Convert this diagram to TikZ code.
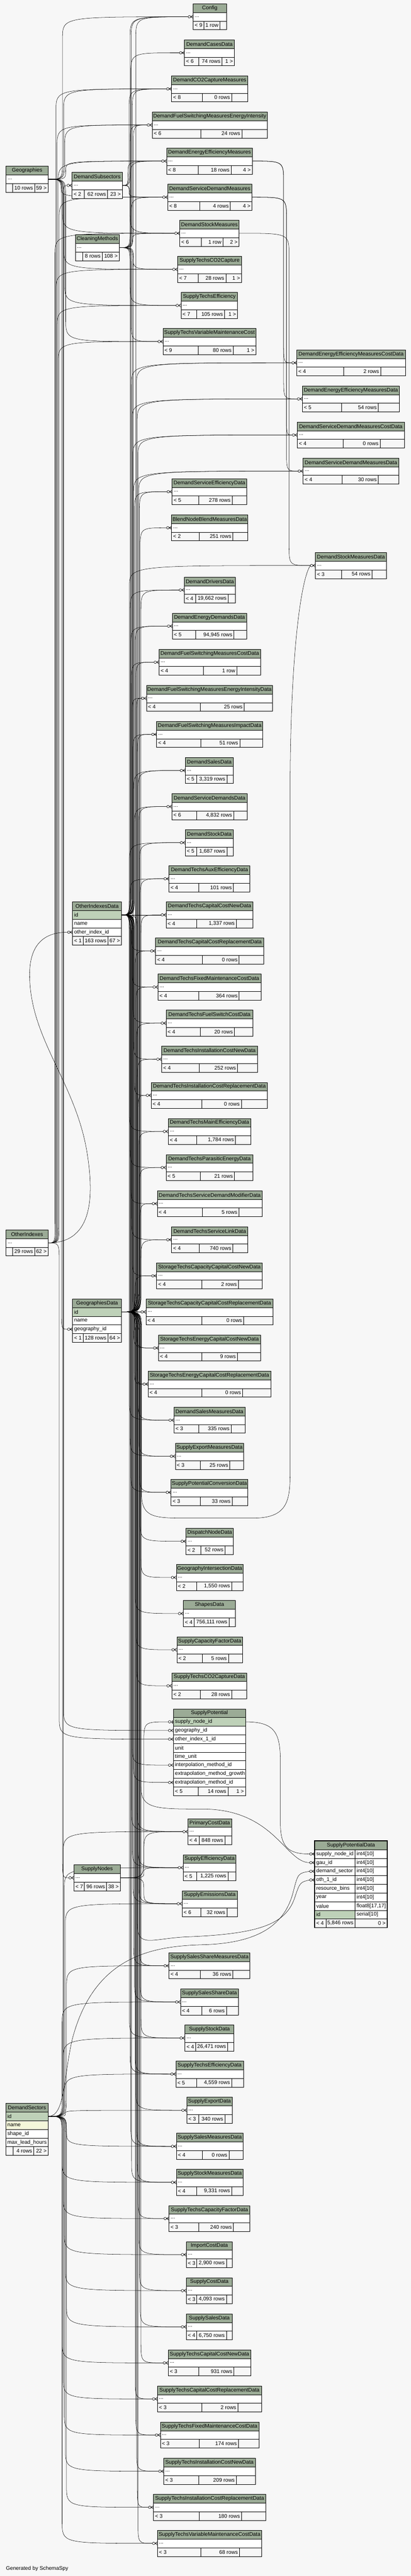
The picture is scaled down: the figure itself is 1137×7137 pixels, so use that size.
\documentclass[tikz,border=0pt]{standalone}
\usepackage{fontspec}
\setmainfont{Liberation Sans}
\usetikzlibrary{calc}
\usetikzlibrary{backgrounds}

\definecolor{pagebg}{HTML}{F7F7F7}
\definecolor{hdrgreen}{HTML}{9BAB96}
\definecolor{keygreen}{HTML}{BED1B8}
\definecolor{idxyellow}{HTML}{F4F7DA}

\tikzset{
    hdr/.style = {draw, fill = hdrgreen},
    cell/.style = {draw, fill = white},
    keycell/.style = {draw, fill = keygreen},
    idxcell/.style = {draw, fill = idxyellow},
    foot/.style = {draw, fill = pagebg},
    ttl/.style = {inner sep = 0pt},
    lbl/.style = {anchor = west, inner sep = 0pt, xshift = 4pt},
    rlbl/.style = {anchor = east, inner sep = 0pt, xshift = -4pt},
    fkline/.style = {line width = 0.75pt},
}

% header: xl, xr, ytop, title, name
\newcommand{\tabhead}[5]{%
    \draw[hdr] ({#1},{#3}) rectangle ({#2},{#3+24});
    \node[ttl] (#5) at ({(#1+#2)/2},{#3+12}) {#4};}
% row: xl, xr, ytop, style, text, name
\newcommand{\tabrow}[6]{%
    \draw[#4] ({#1},{#3}) rectangle ({#2},{#3+24});
    \node[lbl] (#6) at ({#1},{#3+12}) {#5};}
% footer: xl, xr, ytop, split1, split2, left, middle, right, name
\newcommand{\tabfoot}[9]{%
    \draw[foot] ({#1},{#3}) rectangle ({#2},{#3+24});
    \draw ({#4},{#3}) -- ({#4},{#3+24}) ({#5},{#3}) -- ({#5},{#3+24});
    \node[lbl] (#9-l) at ({#1},{#3+12}) {#6};
    \node[rlbl] (#9-m) at ({#5},{#3+12}) {#7};
    \node[rlbl] (#9-r) at ({#2},{#3+12}) {#8};}
% zero or many
\newcommand{\crowat}[1]{%
    \begin{scope}[shift = {#1}]
        \draw (-7,0) -- (0,-4.5) (-7,0) -- (0,0) (-7,0) -- (0,4.5);
        \draw[fill = white] (-10.5,0) circle [radius = 3.5];
    \end{scope}}
% zero or one
\newcommand{\barat}[1]{%
    \begin{scope}[shift = {#1}]
        \draw (-7,0) -- (0,0) (-3.5,-5) -- (-3.5,5);
        \draw[fill = white] (-10.5,0) circle [radius = 3.5];
    \end{scope}}
% parent, child, channel x
\newcommand{\fk}[3]{%
    \draw[fkline] let \p1 = (#1), \p2 = (#2),
        \n1 = {ifthenelse((\y2)<(\y1),-1,1)},
        \n2 = {min(abs((\y2)-(\y1))/2,60)}
    in (\p1) .. controls ({#3},\y1) .. ({#3},{(\y1)+(\n1)*(\n2)*1pt})
        -- ({#3},{(\y2)-(\n1)*(\n2)*1pt}) .. controls ({#3},\y2) .. (\p2);}

\begin{document}
\begin{tikzpicture}[x = 1pt, y = -1pt, line width = 0.9pt, font = \fontsize{14.7}{17}\selectfont]
    \useasboundingbox (0,0) rectangle (1137,7137);

    % tables with one "..." row
    \foreach \nm/\xl/\xr/\yt/\ttl/\spa/\spb/\lft/\mdl/\rgt/\mk in {
        cfg/534.7/626.7/10.5/Config/564/609/{< 9}/{1 row}/{}/1,
        dcd/510.7/649/110.3/DemandCasesData/549.3/614.7/{< 6}/{74 rows}/{1 >}/1,
        dccm/475/686/210.3/DemandCO2CaptureMeasures/559.8/641/{< 8}/{0 rows}/{}/1,
        dfsei/421.3/739.7/310.3/DemandFuelSwitchingMeasuresEnergyIntensity/555.5/669.3/{< 6}/{24 rows}/{}/1,
        deem/461.2/698.3/410.3/DemandEnergyEfficiencyMeasures/549/639.6/{< 8}/{18 rows}/{4 >}/1,
        dsdm/464.1/697.6/510.3/DemandServiceDemandMeasures/553.3/637.4/{< 8}/{4 rows}/{4 >}/1,
        dsm/497.5/662/610.3/DemandStockMeasures/557.6/617.1/{< 6}/{1 row}/{2 >}/1,
        stcc/491.7/668.6/710.3/SupplyTechsCO2Capture/549/625/{< 7}/{28 rows}/{1 >}/1,
        ste/501.1/657.7/810.3/SupplyTechsEfficiency/544.6/621.5/{< 7}/{105 rows}/{1 >}/1,
        stvmc/451/708.5/910.3/SupplyTechsVariableMaintenanceCost/549/645.4/{< 9}/{80 rows}/{1 >}/1,
        deemc/821.6/1121.8/969.2/DemandEnergyEfficiencyMeasuresCostData/950.7/1053.7/{< 4}/{2 rows}/{}/1,
        deemd/836.8/1105.9/1069.2/DemandEnergyEfficiencyMeasuresData/945.6/1047.1/{< 5}/{54 rows}/{}/1,
        dsdmc/823/1118.9/1169.2/DemandServiceDemandMeasuresCostData/949.2/1052.2/{< 4}/{0 rows}/{}/1,
        dsdmd/839/1103.7/1269.2/DemandServiceDemandMeasuresData/947/1047.1/{< 4}/{30 rows}/{}/1,
        dsed/476.4/683.1/1326.3/DemandServiceEfficiencyData/550.4/642.5/{< 5}/{278 rows}/{}/1,
        bnbm/475/686/1426.3/BlendNodeBlendMeasuresData/551.8/644.7/{< 2}/{251 rows}/{}/1,
        dsmd/873.1/1069.6/1530.8/DemandStockMeasuresData/945.6/1029.7/{< 3}/{54 rows}/{}/1,
        ddd/509.8/651.9/1598.7/DemandDriversData/541/631.6/{< 4}/{19,662 rows}/{}/1,
        dedd/477.2/682.4/1698.7/DemandEnergyDemandsData/541/647.6/{< 5}/{94,945 rows}/{}/1,
        dfsc/440.2/720.8/1798.7/DemandFuelSwitchingMeasuresCostData/563.5/655.5/{< 4}/{1 row}/{}/1,
        dfseid/405.4/754.2/1898.7/DemandFuelSwitchingMeasuresEnergyIntensityData/554.7/675.9/{< 4}/{25 rows}/{}/1,
        dfsid/433.6/727.3/1998.7/DemandFuelSwitchingMeasuresImpactData/555.5/663.5/{< 4}/{51 rows}/{}/1,
        dsd/512.7/646.1/2098.7/DemandSalesData/544.6/628/{< 5}/{3,319 rows}/{}/1,
        dsdd/475.7/684.6/2198.7/DemandServiceDemandsData/544.6/646.8/{< 6}/{4,832 rows}/{}/1,
        dstd/512.7/646.1/2298.7/DemandStockData/544.6/628/{< 5}/{1,687 rows}/{}/1,
        dtae/467.7/691.8/2398.7/DemandTechsAuxEfficiencyData/550.4/646.1/{< 4}/{101 rows}/{}/1,
        dtccn/459.7/700.5/2498.7/DemandTechsCapitalCostNewData/544.6/654.1/{< 4}/{1,337 rows}/{}/1,
        dtccr/430.7/730.2/2598.7/DemandTechsCapitalCostReplacementData/559.8/662/{< 4}/{0 rows}/{}/1,
        dtfm/437.3/722.3/2698.7/DemandTechsFixedMaintenanceCostData/550.4/662/{< 4}/{364 rows}/{}/1,
        dtfs/459.7/699.8/2798.7/DemandTechsFuelSwitchCostData/554/649/{< 4}/{20 rows}/{}/1,
        dticn/447.4/712.8/2898.7/DemandTechsInstallationCostNewData/551.8/657.7/{< 4}/{252 rows}/{}/1,
        dticr/418.4/740.4/2998.7/DemandTechsInstallationCostReplacementData/558.4/667.9/{< 4}/{0 rows}/{}/1,
        dtme/465.6/694/3098.7/DemandTechsMainEfficiencyData/544.6/651.9/{< 4}/{1,784 rows}/{}/1,
        dtpe/459.7/699.8/3198.7/DemandTechsParasiticEnergyData/554/649/{< 5}/{21 rows}/{}/1,
        dtsdm/435.1/725.9/3298.7/DemandTechsServiceDemandModifierData/559.8/661.3/{< 4}/{5 rows}/{}/1,
        dtsl/475/686/3398.7/DemandTechsServiceLinkData/551.8/644.7/{< 4}/{740 rows}/{}/1,
        stccn/433.6/725.9/3498.7/StorageTechsCapacityCapitalCostNewData/558.4/659.9/{< 4}/{2 rows}/{}/1,
        stccr/403.9/755.6/3598.7/StorageTechsCapacityCapitalCostReplacementData/558.4/674.4/{< 4}/{0 rows}/{}/1,
        stecn/438.7/720.8/3698.7/StorageTechsEnergyCapitalCostNewData/558.4/657/{< 4}/{9 rows}/{}/1,
        stecr/409.7/749.8/3798.7/StorageTechsEnergyCapitalCostReplacementData/558.4/671.5/{< 4}/{0 rows}/{}/1,
        dsmsd/481.5/678/3898.7/DemandSalesMeasuresData/550.4/639.6/{< 3}/{335 rows}/{}/1,
        semd/485.1/674.4/3998.7/SupplyExportMeasuresData/554.7/636/{< 3}/{25 rows}/{}/1,
        spcd/473.5/686/4098.7/SupplyPotentialConversionData/554.7/642.5/{< 3}/{33 rows}/{}/1,
        dnd/514.9/646.1/4234.2/DispatchNodeData/555.5/622.9/{< 2}/{52 rows}/{}/1,
        gid/488/673/4334.5/GeographyIntersectionData/544.6/641/{< 2}/{1,550 rows}/{}/1,
        shd/507.6/651.9/4434.4/ShapesData/536.6/633.8/{< 4}/{756,111 rows}/{}/1,
        scfd/489.5/671.5/4534.7/SupplyCapacityFactorData/559.8/632.3/{< 2}/{5 rows}/{}/1,
        stccd/475.7/683.1/4634.6/SupplyTechsCO2CaptureData/554.7/641/{< 2}/{28 rows}/{}/1,
        pcd/520/641/5038.6/PrimaryCostData/551.8/622.2/{< 4}/{848 rows}/{}/1,
        sefd/506.9/653.4/5138.4/SupplyEfficiencyData/544.6/630.9/{< 5}/{1,225 rows}/{}/1,
        semi/504/657/5238.3/SupplyEmissionsData/555.5/628/{< 6}/{32 rows}/{}/1,
        sssm/467.7/691.8/5410.3/SupplySalesShareMeasuresData/554.7/644.7/{< 4}/{36 rows}/{}/1,
        sss/499.6/659.9/5510.6/SupplySalesShareData/559.1/626.5/{< 4}/{6 rows}/{}/1,
        ssd/512/647.6/5610.5/SupplyStockData/541/630.2/{< 4}/{26,471 rows}/{}/1,
        sted/486.6/673.7/5710.3/SupplyTechsEfficiencyData/544.6/641/{< 5}/{4,559 rows}/{}/1,
        sexd/517/642.5/5810.6/SupplyExportData/550.4/622.2/{< 3}/{340 rows}/{}/1,
        ssmd/488/673/5910.5/SupplySalesMeasuresData/559.8/633.8/{< 4}/{0 rows}/{}/1,
        stmd/488/673/6010.3/SupplyStockMeasuresData/544.6/641/{< 4}/{9,331 rows}/{}/1,
        stcf/467.7/691.8/6110.6/SupplyTechsCapacityFactorData/550.4/646.1/{< 3}/{240 rows}/{}/1,
        icd/515.6/643.2/6210.5/ImportCostData/544.6/626.5/{< 3}/{2,900 rows}/{}/1,
        scd/515.6/643.2/6310.3/SupplyCostData/544.6/626.5/{< 3}/{4,093 rows}/{}/1,
        ssld/515.6/643.2/6410.6/SupplySalesData/544.6/626.5/{< 4}/{6,750 rows}/{}/1,
        stcn/465.6/694/6510.5/SupplyTechsCapitalCostNewData/550.4/647.6/{< 3}/{931 rows}/{}/1,
        stcr/435.8/723.7/6610.4/SupplyTechsCapitalCostReplacementData/558.4/658.4/{< 3}/{2 rows}/{}/1,
        stfm/443.8/716.5/6710.3/SupplyTechsFixedMaintenanceCostData/551.8/659.9/{< 3}/{174 rows}/{}/1,
        stin/453.2/706.3/6810.7/SupplyTechsInstallationCostNewData/550.4/654.1/{< 3}/{209 rows}/{}/1,
        stir/425/735.3/6910.6/SupplyTechsInstallationCostReplacementData/551.8/668.6/{< 3}/{180 rows}/{}/1,
        stvm/435.8/724.4/7010.5/SupplyTechsVariableMaintenanceCostData/555.5/662.8/{< 3}/{68 rows}/{}/1,
        geo/16.7/133.4/460.7/Geographies/34.8/95.7/{}/{10 rows}/{59 >}/0,
        dsub/199.4/338.6/477.7/DemandSubsectors/233.5/298/{< 2}/{62 rows}/{23 >}/1,
        cm/208.8/330/650/CleaningMethods/228.4/282.8/{}/{8 rows}/{108 >}/0,
        oi/16.7/133.4/3407.6/OtherIndexes/34.8/95.7/{}/{29 rows}/{62 >}/0,
        sn/204.5/332.9/5166.6/SupplyNodes/233.5/295.1/{< 7}/{96 rows}/{38 >}/1%
    }{
        \coordinate (\nm-in) at ({\xl-14},{\yt+36});
        \coordinate (\nm-out) at (\xr,{\yt+36});
        \tabhead{\xl}{\xr}{\yt}{\ttl}{\nm-t}
        \tabrow{\xl}{\xr}{\yt+24}{cell}{...}{\nm-b}
        \tabfoot{\xl}{\xr}{\yt+48}{\spa}{\spb}{\lft}{\mdl}{\rgt}{\nm-f}
        \ifnum\mk=1 \crowat{(\xl,\yt+36)}\fi
    }

    % OtherIndexesData
    \tabhead{200.9}{336.5}{2498.7}{OtherIndexesData}{oid-t}
    \foreach \txt/\sty [count = \rw] in {id/keycell, name/cell, other\_index\_id/cell}{
        \tabrow{200.9}{336.5}{2498.7+24*\rw}{\sty}{\txt}{oid-r\rw}
    }
    \tabfoot{200.9}{336.5}{2594.7}{229.9}{298.8}{< 1}{163 rows}{67 >}{oid-f}
    \coordinate (oid-out) at (336.5,2534.7);
    \coordinate (oid-in3) at (186.9,2582.7);
    \crowat{(200.9,2582.7)}

    % GeographiesData
    \tabhead{200.9}{336.5}{3598.7}{GeographiesData}{gd-t}
    \foreach \txt/\sty [count = \rw] in {id/keycell, name/cell, geography\_id/cell}{
        \tabrow{200.9}{336.5}{3598.7+24*\rw}{\sty}{\txt}{gd-r\rw}
    }
    \tabfoot{200.9}{336.5}{3694.7}{229.9}{298.8}{< 1}{128 rows}{64 >}{gd-f}
    \coordinate (gd-out) at (336.5,3634.7);
    \coordinate (gd-in3) at (186.9,3682.7);
    \crowat{(200.9,3682.7)}

    % SupplyPotential
    \tabhead{480}{679.5}{4734.4}{SupplyPotential}{sp-t}
    \foreach \txt/\sty [count = \rw] in {supply\_node\_id/keycell, geography\_id/cell,
        other\_index\_1\_id/cell, unit/cell, time\_unit/cell, interpolation\_method\_id/cell,
        extrapolation\_method\_growth/cell, extrapolation\_method\_id/cell}{
        \tabrow{480}{679.5}{4734.4+24*\rw}{\sty}{\txt}{sp-r\rw}
        \coordinate (sp-in\rw) at (466,{4746.4+24*\rw});
    }
    \tabfoot{480}{679.5}{4950.4}{549}{630.9}{< 5}{14 rows}{1 >}{sp-f}
    \coordinate (sp-out1) at (679.5,4770.4);
    \barat{(480,4770.4)}
    \foreach \rw in {2,3,6,8}{\crowat{(480,4746.4+24*\rw)}}

    % SupplyPotentialData
    \tabhead{871}{1071.8}{5100.5}{SupplyPotentialData}{spd-t}
    \foreach \txt/\typ/\sty [count = \rw] in {supply\_node\_id/{int4[10]}/cell,
        gau\_id/{int4[10]}/cell, demand\_sector/{int4[10]}/cell, oth\_1\_id/{int4[10]}/cell,
        resource\_bins/{int4[10]}/cell, year/{int4[10]}/cell, value/{float8[17,17]}/cell,
        id/{serial[10]}/keycell}{
        \tabrow{871}{982.6}{5100.5+24*\rw}{\sty}{\txt}{spd-r\rw}
        \tabrow{982.6}{1071.8}{5100.5+24*\rw}{cell}{\typ}{spd-c\rw}
        \coordinate (spd-in\rw) at (857,{5112.5+24*\rw});
    }
    \tabfoot{871}{1071.8}{5316.5}{902.1}{982.6}{< 4}{5,846 rows}{0 >}{spd-f}
    \draw[line width = 2.6pt] (871,5100.5) rectangle (1071.8,5340.5);
    \foreach \rw in {1,...,4}{\crowat{(871,5112.5+24*\rw)}}

    % DemandSectors
    \tabhead{16}{133.4}{5827.5}{DemandSectors}{dsec-t}
    \foreach \txt/\sty [count = \rw] in {id/keycell, name/idxcell, shape\_id/cell,
        max\_lead\_hours/cell, max\_lag\_hours/cell}{
        \tabrow{16}{133.4}{5827.5+24*\rw}{\sty}{\txt}{dsec-r\rw}
    }
    \tabfoot{16}{133.4}{5947.5}{36.3}{93.5}{}{4 rows}{22 >}{dsec-f}
    \coordinate (dsec-out) at (133.4,5863.5);

    \node[anchor = west, inner sep = 0pt] (credit) at (16,7117) {Generated by SchemaSpy};

    \begin{pgfonlayer}{background}
        \fill[pagebg] (0,0) rectangle (1137,7137);
        % Geographies
        \foreach \ch [count = \i] in {cfg-in,dccm-in,dfsei-in,deem-in,dsdm-in,dsm-in,
            stcc-in,ste-in,stvmc-in,gd-in3,sn-in,sp-in2}{
            \fk{geo-out}{\ch}{170+3*mod(\i,5)}
        }
        % DemandSubsectors
        \foreach \ch [count = \i] in {dccm-in,dfsei-in,deem-in,dsdm-in,dsm-in}{
            \fk{dsub-out}{\ch}{354+3*mod(\i,3)}
        }
        % CleaningMethods
        \foreach \ch [count = \i] in {cfg-in,dccm-in,dfsei-in,deem-in,dsdm-in,dsm-in,
            stcc-in,ste-in,stvmc-in,sp-in6,sp-in8}{
            \fk{cm-out}{\ch}{360+3*mod(\i,4)}
        }
        % OtherIndexes
        \foreach \ch [count = \i] in {dccm-in,dfsei-in,deem-in,dsdm-in,dsm-in,
            stcc-in,ste-in,stvmc-in,sp-in3}{
            \fk{oi-out}{\ch}{152+3*mod(\i,5)}
        }
        \draw[fkline] (oi-out) .. controls (250,3443.6) and (262,3330) .. (242,3200)
            .. controls (212,3000) and (82,2880) .. (82,2700)
            .. controls (82,2600) and (140,2582.7) .. (oid-in3);
        % OtherIndexesData
        \foreach \ch [count = \i] in {cfg-in,dcd-in,deemc-in,deemd-in,dsdmc-in,dsdmd-in,
            dsed-in,dsmd-in,ddd-in,dedd-in,dfsc-in,dfseid-in,dfsid-in,dsd-in,dsdd-in,
            dstd-in,dtae-in,dtccn-in,dtccr-in,dtfm-in,dtfs-in,dticn-in,dticr-in,dtme-in,
            dtpe-in,dtsdm-in,dtsl-in,stccn-in,stccr-in,stecn-in,stecr-in,dsmsd-in,
            semd-in,spcd-in,pcd-in,sefd-in,semi-in,sssm-in,sss-in,ssd-in,sted-in,
            ssmd-in,stmd-in}{
            \fk{oid-out}{\ch}{358+2*mod(\i,8)}
        }
        \draw[fkline] (oid-out) .. controls (380,2534.7) .. (380,2590) -- (380,5330)
            .. controls (380,5400) and (420,5370) .. (520,5366)
            .. controls (720,5358) and (790,5330) .. (815,5260)
            .. controls (830,5215) .. (spd-in4);
        % GeographiesData
        \foreach \ch [count = \i] in {cfg-in,deemc-in,deemd-in,dsdmc-in,dsdmd-in,dsed-in,
            bnbm-in,ddd-in,dedd-in,dfsc-in,dfseid-in,dfsid-in,dsd-in,dsdd-in,dstd-in,
            dtae-in,dtccn-in,dtccr-in,dtfm-in,dtfs-in,dticn-in,dticr-in,dtme-in,dtpe-in,
            dtsdm-in,dtsl-in,stccn-in,stccr-in,stecn-in,stecr-in,dsmsd-in,semd-in,
            spcd-in,dnd-in,gid-in,shd-in,scfd-in,stccd-in,pcd-in,sefd-in,semi-in,
            sssm-in,sss-in,ssd-in,sted-in,sexd-in,ssmd-in,stmd-in,stcf-in,icd-in,
            scd-in,ssld-in,stcn-in,stcr-in,stfm-in,stin-in,stir-in,stvm-in}{
            \fk{gd-out}{\ch}{374+2*mod(\i,9)}
        }
        \draw[fkline] (gd-out) .. controls (392,3634.7) .. (392,3690) -- (392,4140)
            .. controls (392,4206) and (430,4206) .. (520,4206) -- (700,4206)
            .. controls (795,4206) and (803,4160) .. (803,4080) -- (803,2200)
            .. controls (803,1800) and (835,1600) .. (dsmd-in);
        \draw[fkline] (gd-out) .. controls (390,3634.7) .. (390,3690) -- (390,4950)
            .. controls (390,5012) and (430,5012) .. (560,5012)
            .. controls (760,5012) and (790,5160.5) .. (spd-in2);
        % SupplyNodes
        \foreach \ch in {pcd-in,sefd-in,semi-in,sp-in1}{
            \fk{sn-out}{\ch}{398}
        }
        % DemandSectors
        \foreach \ch [count = \i] in {pcd-in,sefd-in,semi-in,sssm-in,sss-in,ssd-in,
            sted-in,sexd-in,ssmd-in,stmd-in,stcf-in,icd-in,scd-in,ssld-in,stcn-in,
            stcr-in,stfm-in,stin-in,stir-in,stvm-in,dsub-in}{
            \fk{dsec-out}{\ch}{172+3*mod(\i,5)}
        }
        \draw[fkline] (dsec-out) .. controls (180,5863.5) and (175,5760) .. (200,5650)
            .. controls (260,5420) and (420,5392) .. (560,5388)
            .. controls (720,5384) and (790,5330) .. (812,5240)
            .. controls (825,5190) .. (spd-in3);
        % measures to their data
        \foreach \ch in {deemc-in,deemd-in}{\fk{deem-out}{\ch}{785}}
        \foreach \ch in {dsdmc-in,dsdmd-in}{\fk{dsdm-out}{\ch}{793}}
        \fk{dsm-out}{dsmd-in}{800}
        \draw[fkline] (sp-out1) .. controls (760,4770.4) and (776,4800) .. (776,4880)
            -- (776,5050) .. controls (776,5120) and (800,5136.5) .. (spd-in1);
    \end{pgfonlayer}
\end{tikzpicture}
\end{document}
